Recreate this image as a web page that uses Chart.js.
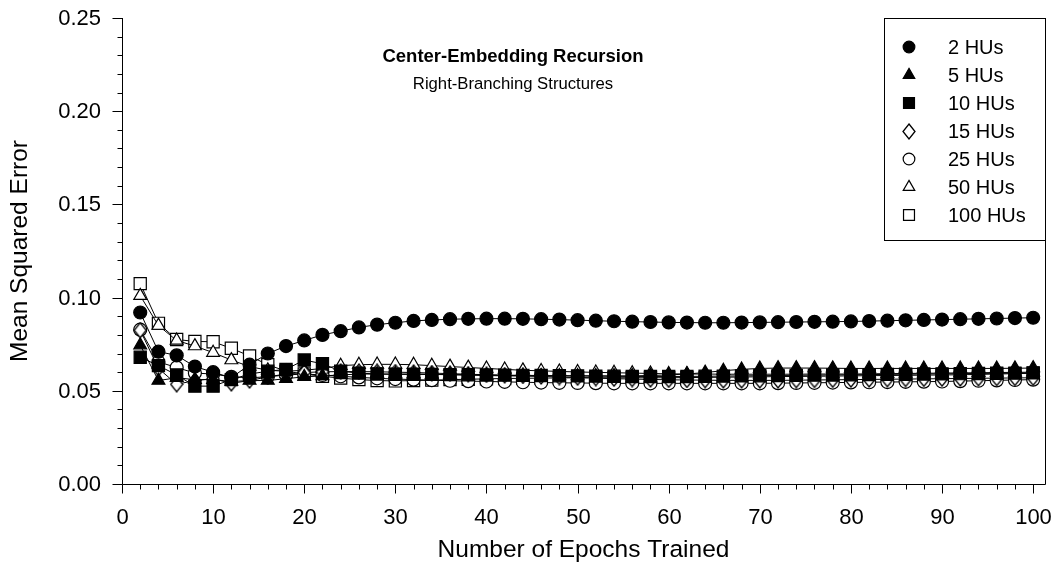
<!DOCTYPE html>
<html>
<head>
<meta charset="utf-8">
<script src="https://cdn.jsdelivr.net/npm/chart.js@4/dist/chart.umd.min.js"></script>
<style>
  html, body { margin: 0; padding: 0; background: #fff; }
</style>
</head>
<body>
<canvas id="mseChart" width="1055" height="573"></canvas>
<script>
// epochs sampled every 2
const epochs = [2,4,6,8,10,12,14,16,18,20,22,24,26,28,30,32,34,36,38,40,42,44,46,48,50,
                52,54,56,58,60,62,64,66,68,70,72,74,76,78,80,82,84,86,88,90,92,94,96,98,100];

const hu2 = [0.092,0.071,0.069,0.063,0.060,0.057,0.064,0.070,0.074,0.077,0.080,0.082,0.084,0.0855,0.0865,0.0875,0.088,0.0884,0.0886,0.0887,
             0.0887,0.0886,0.0884,0.0882,0.0879,0.0876,0.0873,0.0871,0.0869,0.0867,0.0866,0.0865,0.0865,0.0866,0.0867,0.0868,0.0869,0.087,0.0871,0.0872,
             0.0874,0.0876,0.0878,0.088,0.0882,0.0884,0.0886,0.0888,0.089,0.0892];
const hu5 = [0.0745,0.0555,0.057,0.056,0.056,0.055,0.0555,0.0555,0.0565,0.0575,0.058,0.0585,0.059,0.059,0.059,0.059,0.0588,0.0586,0.0584,0.0582,
             0.058,0.058,0.058,0.058,0.058,0.058,0.058,0.058,0.0582,0.0585,0.059,0.0598,0.0608,0.0615,0.062,0.0622,0.0622,0.0622,0.0621,0.062,
             0.062,0.062,0.062,0.062,0.062,0.062,0.062,0.062,0.0621,0.0622];
const hu10 = [0.068,0.0635,0.0585,0.0525,0.0525,0.056,0.059,0.0605,0.0615,0.0665,0.0645,0.0605,0.0595,0.059,0.0588,0.0588,0.0588,0.0587,0.0586,0.0585,
              0.0584,0.0583,0.0582,0.0581,0.058,0.0579,0.0578,0.0577,0.0577,0.0577,0.0577,0.0578,0.0579,0.058,0.0581,0.0582,0.0583,0.0584,0.0585,0.0586,
              0.0587,0.0588,0.0589,0.059,0.0591,0.0592,0.0593,0.0594,0.0595,0.0596];
const hu15 = [0.0825,0.062,0.0535,0.0555,0.0565,0.054,0.0555,0.0575,0.059,0.0598,0.0602,0.0603,0.0603,0.0602,0.06,0.0598,0.0595,0.0592,0.0589,0.0586,
              0.0583,0.058,0.0577,0.0574,0.0571,0.0568,0.0565,0.0563,0.0561,0.0559,0.0558,0.0557,0.0556,0.0556,0.0556,0.0556,0.0557,0.0558,0.0559,0.056,
              0.0561,0.0562,0.0563,0.0564,0.0565,0.0566,0.0567,0.0568,0.0569,0.057];
const hu25 = [0.0828,0.0655,0.0625,0.0595,0.059,0.0575,0.057,0.0575,0.0585,0.059,0.0585,0.0578,0.0572,0.0567,0.0563,0.056,0.0557,0.0554,0.0552,0.055,
              0.0548,0.0546,0.0544,0.0543,0.0542,0.0541,0.054,0.054,0.054,0.054,0.054,0.054,0.054,0.054,0.054,0.0541,0.0542,0.0543,0.0544,0.0545,
              0.0546,0.0547,0.0548,0.0549,0.055,0.0552,0.0554,0.0556,0.0558,0.056];
const hu50 = [0.101,0.085,0.077,0.074,0.0705,0.0665,0.063,0.061,0.0605,0.061,0.062,0.0635,0.064,0.0642,0.0642,0.064,0.0635,0.063,0.0625,0.062,
              0.0615,0.061,0.0607,0.0604,0.0601,0.0599,0.0597,0.0595,0.0593,0.0591,0.059,0.059,0.0589,0.0589,0.0589,0.0589,0.0589,0.059,0.059,0.059,
              0.0591,0.0592,0.0593,0.0594,0.0595,0.0596,0.0597,0.0598,0.0599,0.06];
const hu100 = [0.1075,0.0862,0.0775,0.0765,0.0763,0.0728,0.0687,0.064,0.0605,0.059,0.0578,0.0568,0.056,0.0555,0.0553,0.0555,0.0557,0.056,0.0562,0.0564,
               0.0566,0.0567,0.0568,0.0569,0.057,0.057,0.057,0.057,0.057,0.057,0.0571,0.0572,0.0573,0.0574,0.0575,0.0576,0.0577,0.0578,0.0579,0.058,
               0.0581,0.0582,0.0583,0.0584,0.0585,0.0586,0.0588,0.059,0.0592,0.0594];

const seriesLabels = ['2 HUs', '5 HUs', '10 HUs', '15 HUs', '25 HUs', '50 HUs', '100 HUs'];
const seriesValues = [hu2, hu5, hu10, hu15, hu25, hu50, hu100];
const xTickLabels = ['0', '10', '20', '30', '40', '50', '60', '70', '80', '90', '100'];
const yTickLabels = ['0.00', '0.05', '0.10', '0.15', '0.20', '0.25'];

const FONT = '"Liberation Sans", Arial, sans-serif';

// tall diamond marker (rectRot is too square)
function makeDiamond(w, h) {
  const c = document.createElement('canvas');
  c.width = w + 2; c.height = h + 2;
  const g = c.getContext('2d');
  g.beginPath();
  g.moveTo(c.width / 2, 1);
  g.lineTo(c.width - 1, c.height / 2);
  g.lineTo(c.width / 2, c.height - 1);
  g.lineTo(1, c.height / 2);
  g.closePath();
  g.fillStyle = '#fff'; g.fill();
  g.lineWidth = 1.3; g.strokeStyle = '#000'; g.stroke();
  return c;
}
const diamond = makeDiamond(12, 15);

const markers = [
  { style: 'circle', fill: '#000', r: 6.5 },
  { style: 'triangle', fill: '#000', r: 7.4 },
  { style: 'rect', fill: '#000', r: 8.6 },
  { style: diamond, fill: '#fff', r: 7 },
  { style: 'circle', fill: '#fff', r: 6.5 },
  { style: 'triangle', fill: '#fff', r: 7.4 },
  { style: 'rect', fill: '#fff', r: 8.6 }
];

const datasets = seriesValues.map((vals, i) => ({
  label: seriesLabels[i],
  data: vals.map((v, j) => ({ x: epochs[j], y: v })),
  borderColor: '#000',
  borderWidth: 1,
  pointStyle: markers[i].style,
  pointRadius: markers[i].r,
  pointBackgroundColor: markers[i].fill,
  pointBorderColor: '#000',
  pointBorderWidth: 1.2,
  tension: 0
}));

function drawMarker(ctx, m, x, y) {
  if (typeof m.style !== 'string') {
    ctx.drawImage(m.style, Math.round(x - m.style.width / 2), Math.round(y - m.style.height / 2));
    return;
  }
  ctx.beginPath();
  const r = m.r;
  if (m.style === 'circle') {
    ctx.arc(x, y, r, 0, Math.PI * 2);
  } else if (m.style === 'triangle') {
    ctx.moveTo(x, y - r);
    ctx.lineTo(x + r * 0.866, y + r / 2);
    ctx.lineTo(x - r * 0.866, y + r / 2);
    ctx.closePath();
  } else {
    const s = r * Math.SQRT1_2;
    ctx.rect(x - s, y - s, 2 * s, 2 * s);
  }
  ctx.fillStyle = m.fill;
  ctx.fill();
  ctx.lineWidth = 1.2;
  ctx.strokeStyle = '#000';
  ctx.stroke();
}

// axis lines, major/minor ticks and tick labels, positioned by the chart scales
const axisFrame = {
  id: 'axisFrame',
  beforeDatasetsDraw(chart) {
    const { ctx, chartArea: a, scales: { x, y } } = chart;
    ctx.save();
    ctx.strokeStyle = '#000';
    ctx.lineWidth = 1;
    ctx.beginPath();
    const L = Math.round(a.left) + 0.5, B = Math.round(a.bottom) + 0.5, R = Math.round(a.right) + 0.5;
    ctx.moveTo(L, a.top);
    ctx.lineTo(L, B);
    ctx.lineTo(R, B);
    ctx.lineTo(R, a.top);
    ctx.fillStyle = '#000';
    ctx.font = '22px ' + FONT;
    ctx.textBaseline = 'middle';
    ctx.textAlign = 'right';
    y.ticks.forEach(t => {
      const py = Math.round(y.getPixelForValue(t.value)) + 0.5;
      const k = Math.round(t.value * 100);
      const major = k % 5 === 0;
      ctx.moveTo(L - (major ? 10 : 5), py); ctx.lineTo(L, py);
      if (major) ctx.fillText(yTickLabels[k / 5], 101, py);
    });
    ctx.textAlign = 'center';
    x.ticks.forEach(t => {
      const px = Math.round(x.getPixelForValue(t.value)) + 0.5;
      const major = Math.round(t.value) % 10 === 0;
      ctx.moveTo(px, B); ctx.lineTo(px, B + (major ? 9 : 5));
      if (major) ctx.fillText(xTickLabels[Math.round(t.value) / 10], px, 518);
    });
    ctx.stroke();
    ctx.restore();
  }
};

const boxLegend = {
  id: 'boxLegend',
  afterDraw(chart) {
    const ctx = chart.ctx;
    ctx.save();
    ctx.strokeStyle = '#000';
    ctx.lineWidth = 1;
    ctx.strokeRect(884.5, 18.5, 161, 222);
    ctx.font = '20px ' + FONT;
    ctx.textBaseline = 'middle';
    ctx.textAlign = 'left';
    seriesLabels.forEach((lab, i) => {
      const yy = 47 + i * 28;
      const m = Object.assign({}, markers[i], { r: markers[i].r * 0.9 });
      drawMarker(ctx, m, 909, yy);
      ctx.fillStyle = '#000';
      ctx.fillText(lab, 948, yy + 1);
    });
    // in-plot title
    ctx.textAlign = 'center';
    ctx.font = 'bold 18.5px ' + FONT;
    ctx.fillText('Center-Embedding Recursion', 513, 57);
    ctx.font = '16.7px ' + FONT;
    ctx.fillText('Right-Branching Structures', 513, 84);
    ctx.restore();
  }
};

const titleFont = { family: FONT, size: 24.5 };

new Chart(document.getElementById('mseChart'), {
  type: 'line',
  data: { datasets: datasets },
  options: {
    responsive: false,
    animation: false,
    layout: { padding: { top: 18, right: 10, left: 0, bottom: 0 } },
    plugins: { legend: { display: false }, tooltip: { enabled: false } },
    scales: {
      x: {
        type: 'linear',
        min: 0,
        max: 101.3,
        grid: { display: false, drawTicks: false },
        border: { display: false },
        ticks: { display: false, stepSize: 2, includeBounds: false, autoSkip: false },
        title: { display: true, text: 'Number of Epochs Trained', color: '#000', font: titleFont, padding: { top: 0, bottom: 8 } },
        afterFit: s => { s.height = 89; }
      },
      y: {
        min: 0,
        max: 0.25,
        grid: { display: false, drawTicks: false },
        border: { display: false },
        ticks: { display: false, stepSize: 0.01, autoSkip: false },
        title: { display: true, text: 'Mean Squared Error', color: '#000', font: titleFont, padding: { top: 6, bottom: 0 } },
        afterFit: s => { s.width = 122; }
      }
    }
  },
  plugins: [axisFrame, boxLegend]
});
</script>
</body>
</html>
